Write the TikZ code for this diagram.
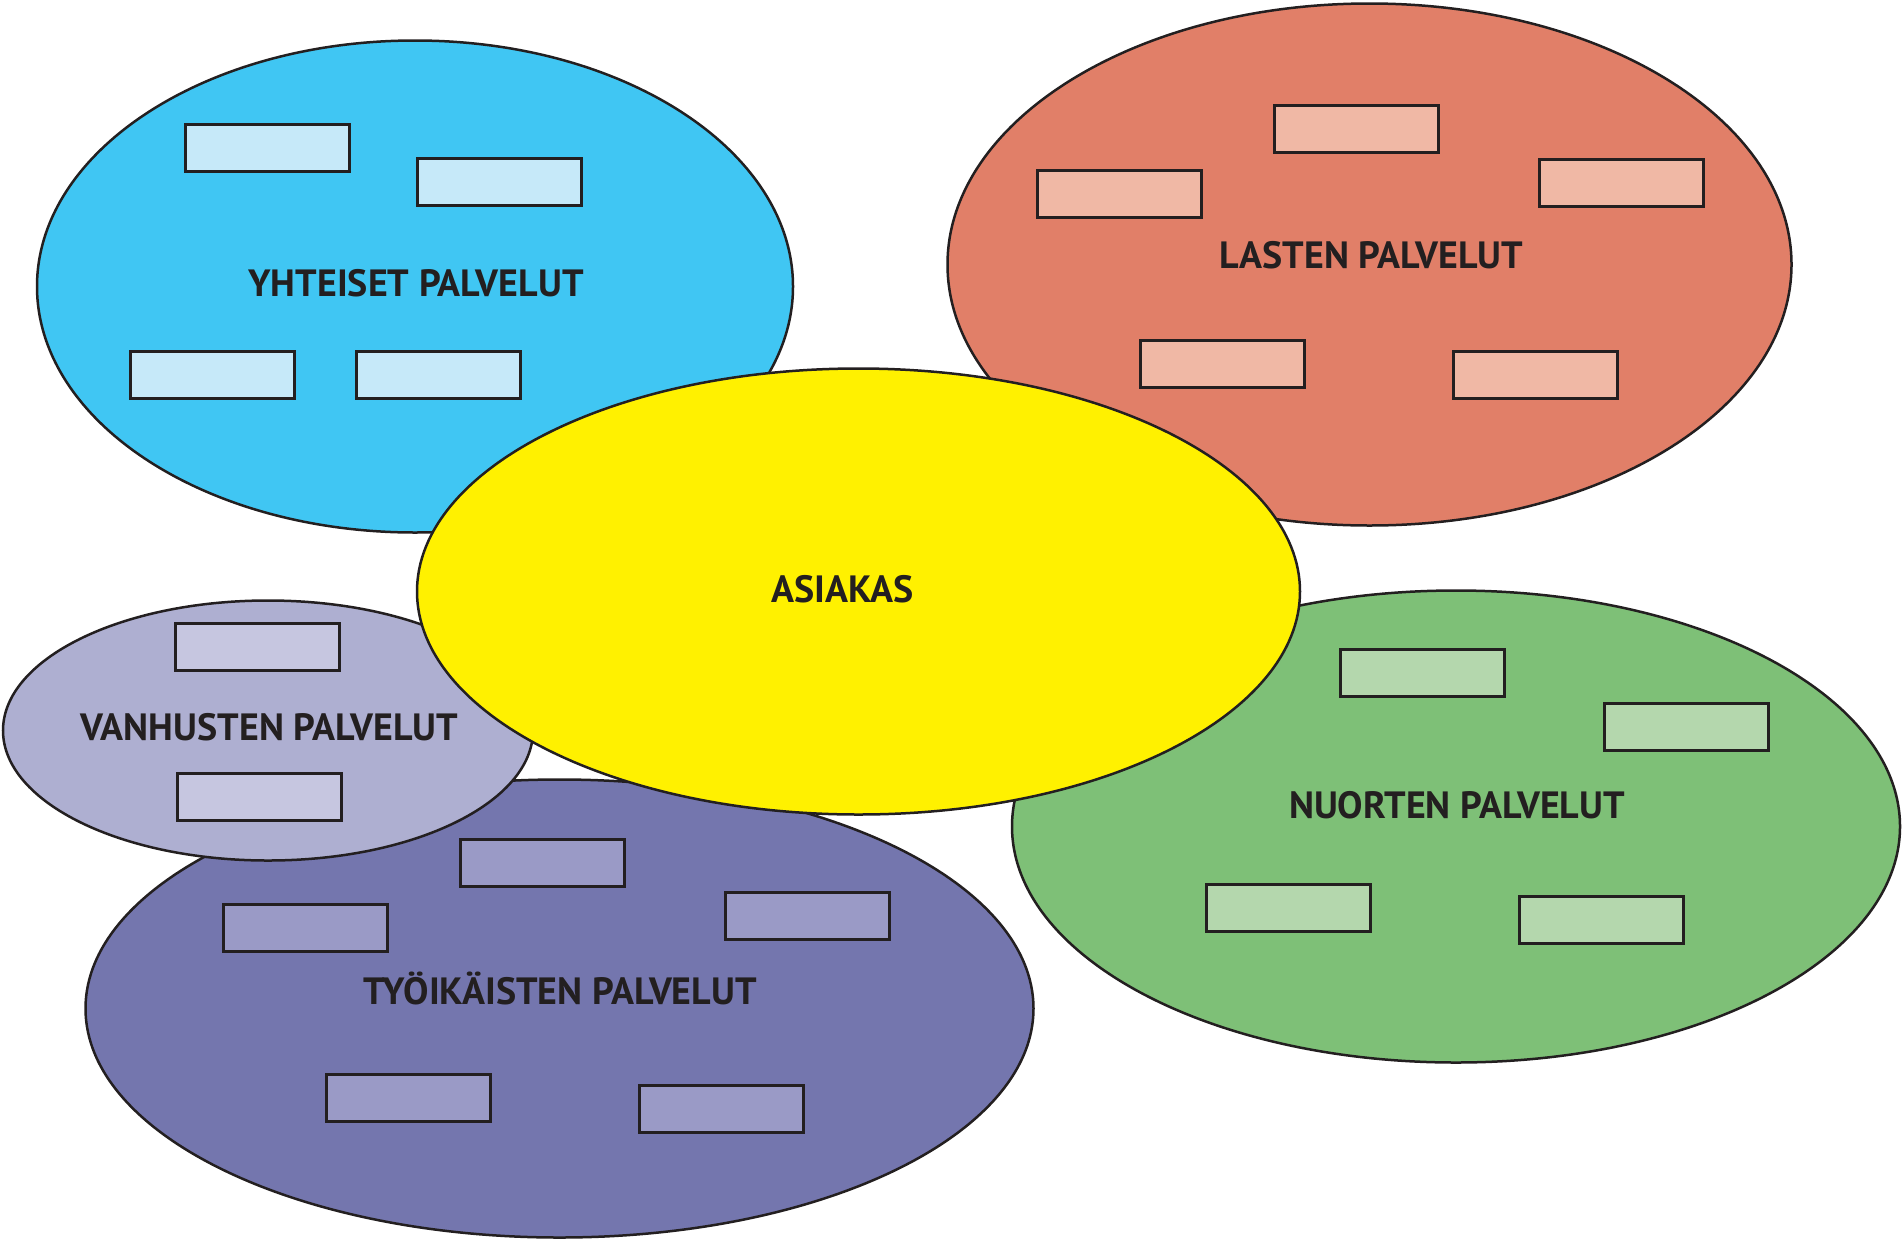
\documentclass[tikz,border=0pt]{standalone}
\usepackage{fontspec}
\setmainfont{PT Sans}
\usetikzlibrary{shapes.geometric}
\definecolor{ink}{HTML}{231F20}
\definecolor{cBlue}{HTML}{40C6F3}\definecolor{rBlue}{HTML}{C6E9F9}
\definecolor{cRed}{HTML}{E17F68}\definecolor{rRed}{HTML}{F0B8A5}
\definecolor{cYellow}{HTML}{FFF100}
\definecolor{cLilac}{HTML}{AEAFD1}\definecolor{rLilac}{HTML}{C6C6E0}
\definecolor{cPurple}{HTML}{7476AE}\definecolor{rPurple}{HTML}{9A9AC6}
\definecolor{cGreen}{HTML}{7EC077}\definecolor{rGreen}{HTML}{B4D7AD}
\tikzset{
  group/.style={draw=ink, line width=2.5pt},
  slot/.style={draw=ink, line width=3pt, inner sep=0pt, minimum width=164pt, minimum height=47pt, anchor=north west},
  title/.style={text=ink, font=\bfseries\fontsize{38}{44}\selectfont, anchor=base, inner sep=0pt}
}
\begin{document}
\begin{tikzpicture}[x=1pt,y=-1pt]
\useasboundingbox (0,0) rectangle (1903,1240);
% service groups
\path[group, fill=cBlue]   (415,286.5)  ellipse [x radius=378, y radius=246];
\path[group, fill=cRed]    (1369.5,264.5) ellipse [x radius=422, y radius=261];
\path[group, fill=cGreen]  (1456,826.5) ellipse [x radius=444, y radius=236];
\path[group, fill=cPurple] (559.5,1008.5) ellipse [x radius=474, y radius=229];
\path[group, fill=cLilac]  (268,730.5)  ellipse [x radius=265, y radius=130];
\path[group, fill=cYellow] (858.5,591.5) ellipse [x radius=441.5, y radius=223];
% yhteiset
\node[slot, fill=rBlue] (y1) at (184,123) {};
\node[slot, fill=rBlue] (y2) at (416,157) {};
\node[slot, fill=rBlue] (y3) at (129,350) {};
\node[slot, fill=rBlue] (y4) at (355,350) {};
\node[title] (ty) at (416,296) {YHTEISET PALVELUT};
% lasten
\node[slot, fill=rRed] (l1) at (1273,104) {};
\node[slot, fill=rRed] (l2) at (1036,169) {};
\node[slot, fill=rRed] (l3) at (1538,157.5) {};
\node[slot, fill=rRed] (l4) at (1139,338.5) {};
\node[slot, fill=rRed] (l5) at (1452,350) {};
\node[title] (tl) at (1371.5,268.3) {LASTEN PALVELUT};
% nuorten
\node[slot, fill=rGreen] (n1) at (1338.5,648) {};
\node[slot, fill=rGreen] (n2) at (1603,701.5) {};
\node[slot, fill=rGreen] (n3) at (1204.5,883) {};
\node[slot, fill=rGreen] (n4) at (1517.5,894.5) {};
\node[title] (tn) at (1457,818.3) {NUORTEN PALVELUT};
% tyoikaisten
\node[slot, fill=rPurple] (p1) at (459,837.5) {};
\node[slot, fill=rPurple] (p2) at (222,903) {};
\node[slot, fill=rPurple] (p3) at (723.5,891) {};
\node[slot, fill=rPurple] (p4) at (325,1073) {};
\node[slot, fill=rPurple] (p5) at (638,1084) {};
\node[title] (tp) at (560.3,1004) {TYÖIKÄISTEN PALVELUT};
% vanhusten
\node[slot, fill=rLilac] (v1) at (174,622) {};
\node[slot, fill=rLilac] (v2) at (176,771.5) {};
\node[title] (tv) at (269.3,740.7) {VANHUSTEN PALVELUT};
% asiakas
\node[title] (ta) at (842.8,602.7) {ASIAKAS};
\end{tikzpicture}
\end{document}
